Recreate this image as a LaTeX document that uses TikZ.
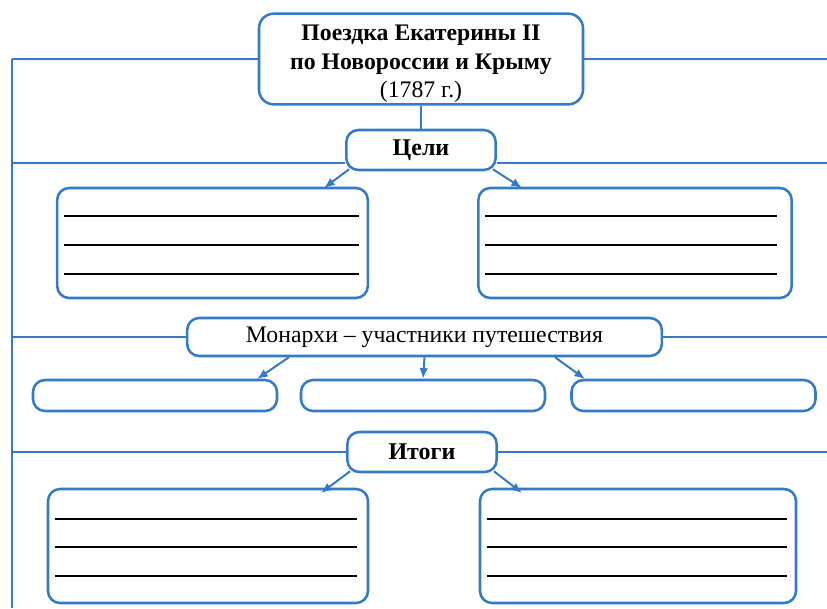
\documentclass[tikz,border=0pt]{standalone}
\usepackage{fontspec}
\setmainfont{Liberation Serif}
\usetikzlibrary{positioning,arrows.meta}
\definecolor{scheme}{RGB}{52,122,198}

\begin{document}
\begin{tikzpicture}[x=0.75pt, y=-0.75pt, line width=1.9pt, draw=scheme,
    every node/.style={draw=scheme, fill=white, rounded corners=9pt, align=center, inner sep=0pt},
    head/.style={font=\fontsize{18}{21}\selectfont\bfseries, minimum width=112pt, minimum height=30pt},
    blank/.style={minimum width=233pt, minimum height=82.5pt},
    slot/.style={minimum width=183pt, minimum height=23.25pt},
    rule/.style={draw=black, line width=1.7pt},
    link/.style={draw=scheme, -{Latex[length=8pt, width=6.5pt]}, line width=1.5pt}]
\useasboundingbox (0,0) rectangle (827,608);

\coordinate (top) at (12,59);
\coordinate (bottom) at (12,608);
\draw (top) -- (bottom);

\node (trip) at (421,59) [minimum width=243pt, minimum height=68pt, rounded corners=11pt,
    font=\fontsize{17.8}{21.5}\selectfont]
    {\rule{0pt}{19pt}\textbf{Поездка Екатерины II}\\ \textbf{по Новороссии и Крыму}\\ (1787 г.)};
\node (goals) at (421,150) [head] {Цели};
\node (monarchs) at (424.5,337) [minimum width=356pt, minimum height=28.5pt,
    font=\fontsize{17.8}{21}\selectfont] {Монархи -- участники путешествия};
\node (results) at (422,452) [head] {Итоги};

\node (g1) at (212.5,243) [blank] {};
\node (g2) at (635,243) [blank, minimum width=235pt] {};
\node (m1) at (155,395.5) [slot] {};
\node (m2) at (423,395.5) [slot] {};
\node (m3) at (693.5,395.5) [slot] {};
\node (r1) at (208,546) [blank, minimum width=240pt, minimum height=85.5pt] {};
\node (r2) at (638,546) [blank, minimum width=237pt, minimum height=85.5pt] {};

\draw (top) -- (trip.west);
\draw (trip.east) -- (827,59);
\draw (trip.south) -- (goals.north);
\draw (12,163) -- (goals.west |- 12,163);
\draw (goals.east |- 12,163) -- (827,163);
\draw (12,337) -- (monarchs.west);
\draw (monarchs.east) -- (827,337);
\draw (12,452) -- (results.west);
\draw (results.east) -- (827,452);

\draw[link] (goals.south west) ++(4,-2) -- (324,188);
\draw[link] (goals.south east) ++(-4,-2) -- (522,188);
\draw[link] (monarchs.south west) ++(103,0) -- (257,379);
\draw[link] (monarchs.south) -- (m2.north);
\draw[link] (monarchs.south east) ++(-108,0) -- (585,379);
\draw[link] (results.south west) ++(4,-2) -- (321,493);
\draw[link] (results.south east) ++(-4,-2) -- (522,493);

\foreach \n/\a/\b in {g1/8/10, g2/8/16}
  \foreach \d in {29,58,87}
    \draw[rule] ([shift={(\a,\d)}]\n.north west) -- ([shift={(-\b,\d)}]\n.north east);
\foreach \n/\a/\b in {r1/8/12, r2/8/10}
  \foreach \d in {31,59,88}
    \draw[rule] ([shift={(\a,\d)}]\n.north west) -- ([shift={(-\b,\d)}]\n.north east);
\end{tikzpicture}
\end{document}
